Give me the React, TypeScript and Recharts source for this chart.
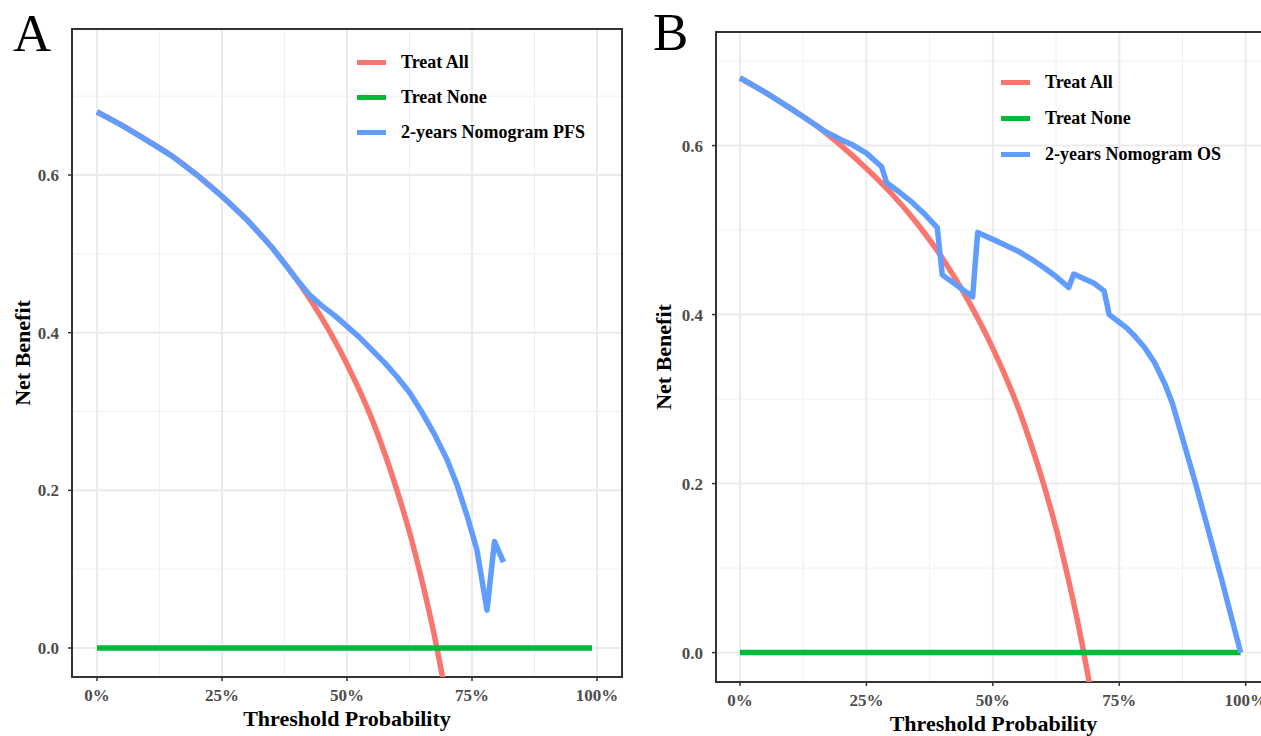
import React from 'react';
import { LineChart, Line, XAxis, YAxis, CartesianGrid, Legend, ReferenceArea } from 'recharts';

// axis breaks
const xTicks = [0, 0.25, 0.5, 0.75, 1];
const yTicks = [0, 0.2, 0.4, 0.6];
const xMinor = [0.125, 0.375, 0.625, 0.875];
const yMinor = [0.1, 0.3, 0.5, 0.7];

// Treat All (same curve in both panels)
const treatAllX = [0, 0.05, 0.1, 0.15, 0.2, 0.25, 0.3, 0.35, 0.4, 0.45, 0.5, 0.55, 0.6, 0.625, 0.65, 0.675, 0.7];
const treatAllY = [0.68, 0.663, 0.644, 0.624, 0.6, 0.573, 0.543, 0.508, 0.467, 0.418, 0.36, 0.29, 0.2, 0.147, 0.085, 0.015, -0.067];

// Treat None
const treatNoneX = [0, 0.99];
const treatNoneY = [0, 0];

// panel A: 2-years Nomogram PFS
const pfsX = [0, 0.05, 0.1, 0.15, 0.2, 0.25, 0.3, 0.35, 0.4, 0.425, 0.45, 0.475, 0.5, 0.525, 0.55, 0.575, 0.6, 0.625, 0.65, 0.675, 0.7, 0.72, 0.74, 0.76, 0.78, 0.795, 0.813];
const pfsY = [0.68, 0.663, 0.644, 0.624, 0.6, 0.573, 0.543, 0.508, 0.467, 0.448, 0.434, 0.422, 0.408, 0.394, 0.378, 0.362, 0.344, 0.324, 0.299, 0.271, 0.239, 0.207, 0.168, 0.124, 0.048, 0.135, 0.109];

// panel B: 2-years Nomogram OS
const osX = [0, 0.05, 0.1, 0.15, 0.17, 0.2, 0.225, 0.25, 0.28, 0.29, 0.315, 0.34, 0.365, 0.39, 0.4, 0.46, 0.47, 0.5, 0.525, 0.55, 0.575, 0.6, 0.625, 0.65, 0.66, 0.7, 0.72, 0.73, 0.75, 0.765, 0.78, 0.8, 0.82, 0.84, 0.855, 0.9, 0.95, 0.99];
const osY = [0.68, 0.663, 0.644, 0.624, 0.616, 0.607, 0.6, 0.591, 0.575, 0.556, 0.545, 0.533, 0.519, 0.503, 0.447, 0.421, 0.497, 0.489, 0.482, 0.475, 0.466, 0.456, 0.445, 0.432, 0.448, 0.437, 0.428, 0.4, 0.391, 0.384, 0.375, 0.361, 0.343, 0.318, 0.295, 0.202, 0.092, 0];

const FONT = '"Liberation Serif", "Times New Roman", serif';
const RED = '#F8766D';
const GREEN = '#00BA38';
const BLUE = '#619CFF';

const zip = (xs: number[], ys: number[]) => xs.map((x, i) => ({ x, y: ys[i] }));

type PanelProps = {
  left: number;
  margin: { top: number; right: number; left: number; bottom: number };
  yAxisWidth: number;
  xAxisHeight: number;
  xDomain: [number, number];
  yDomain: [number, number];
  modelName: string;
  modelX: number[];
  modelY: number[];
  xLabelOffset: number;
  yLabelDx: number;
  legendLeft: number;
  legendTop: number;
  legendRow: number;
};

const LegendBox = ({ names, rowH }: { names: string[]; rowH: number }) => {
  const colors = [RED, GREEN, BLUE];
  return (
    <div style={{ fontFamily: FONT, fontWeight: 'bold', fontSize: 18, color: '#000' }}>
      {names.map((n, i) => (
        <div key={n} style={{ display: 'flex', alignItems: 'center', height: rowH }}>
          <span style={{ display: 'inline-block', width: 29, height: 5, background: colors[i], marginRight: 15 }} />
          <span style={{ whiteSpace: 'nowrap' }}>{n}</span>
        </div>
      ))}
    </div>
  );
};

const Panel = (p: PanelProps) => {
  const tickStyle = { fill: '#4d4d4d', fontSize: 17, fontWeight: 'bold', fontFamily: FONT };
  const titleStyle = { fill: '#000', fontSize: 22, fontWeight: 'bold', fontFamily: FONT };
  return (
    <div style={{ position: 'absolute', left: p.left, top: 0 }}>
      <LineChart width={640} height={736} margin={p.margin}>
        <CartesianGrid horizontalValues={yMinor} verticalValues={xMinor} stroke="#f0f0f0" strokeWidth={1} />
        <CartesianGrid horizontalValues={yTicks} verticalValues={xTicks} stroke="#ebebeb" strokeWidth={2} />
        <XAxis
          type="number"
          dataKey="x"
          domain={p.xDomain}
          ticks={xTicks}
          interval={0}
          allowDataOverflow
          height={p.xAxisHeight}
          axisLine={false}
          tickLine={{ stroke: '#333', strokeWidth: 1.5 }}
          tickSize={4}
          tickMargin={8}
          tick={tickStyle}
          tickFormatter={(v: number) => `${Math.round(v * 100)}%`}
          label={{ value: 'Threshold Probability', position: 'insideBottom', offset: p.xLabelOffset, ...titleStyle }}
        />
        <YAxis
          type="number"
          domain={p.yDomain}
          ticks={yTicks}
          interval={0}
          allowDataOverflow
          width={p.yAxisWidth}
          axisLine={false}
          tickLine={{ stroke: '#333', strokeWidth: 1.5 }}
          tickSize={4}
          tickMargin={9}
          tick={tickStyle}
          tickFormatter={(v: number) => v.toFixed(1)}
          label={{ value: 'Net Benefit', angle: -90, position: 'center', dx: p.yLabelDx, ...titleStyle }}
        />
        <Line data={zip(treatAllX, treatAllY)} dataKey="y" name="Treat All" type="monotone" stroke={RED} strokeWidth={5.5} dot={false} activeDot={false} isAnimationActive={false} />
        <Line data={zip(treatNoneX, treatNoneY)} dataKey="y" name="Treat None" type="linear" stroke={GREEN} strokeWidth={5.5} dot={false} activeDot={false} isAnimationActive={false} />
        <Line data={zip(p.modelX, p.modelY)} dataKey="y" name={p.modelName} type="linear" stroke={BLUE} strokeWidth={5.5} strokeLinejoin="round" dot={false} activeDot={false} isAnimationActive={false} />
        <ReferenceArea x1={p.xDomain[0]} x2={p.xDomain[1]} y1={p.yDomain[0]} y2={p.yDomain[1]} fill="none" stroke="#333" strokeWidth={2} ifOverflow="visible" />
        <Legend
          layout="vertical"
          align="center"
          verticalAlign="middle"
          wrapperStyle={{ left: p.legendLeft, top: p.legendTop, width: 'auto' }}
          content={() => <LegendBox names={['Treat All', 'Treat None', p.modelName]} rowH={p.legendRow} />}
        />
      </LineChart>
    </div>
  );
};

export default function App() {
  return (
    <div style={{ position: 'fixed', left: 0, top: 0, width: 1261, height: 736, overflow: 'hidden', background: '#fff', fontFamily: FONT }}>
      <Panel
        left={0}
        margin={{ top: 29, right: 18, left: 0, bottom: 0 }}
        yAxisWidth={72}
        xAxisHeight={59}
        xDomain={[-0.05, 1.05]}
        yDomain={[-0.0368, 0.7852]}
        modelName="2-years Nomogram PFS"
        modelX={pfsX}
        modelY={pfsY}
        xLabelOffset={10}
        yLabelDx={-14}
        legendLeft={357}
        legendTop={44.5}
        legendRow={35}
      />
      <Panel
        left={640}
        margin={{ top: 32, right: 9, left: 0, bottom: 0 }}
        yAxisWidth={76}
        xAxisHeight={54}
        xDomain={[-0.0474, 1.05]}
        yDomain={[-0.0348, 0.7344]}
        modelName="2-years Nomogram OS"
        modelX={osX}
        modelY={osY}
        xLabelOffset={5}
        yLabelDx={-15}
        legendLeft={361}
        legendTop={64.3}
        legendRow={36}
      />
      <svg width={1261} height={736} style={{ position: 'absolute', left: 0, top: 0, pointerEvents: 'none' }}>
        <text x={13} y={51} fontSize={53} fontFamily={FONT} fill="#000">A</text>
        <text x={653} y={50} fontSize={53} fontFamily={FONT} fill="#000">B</text>
      </svg>
    </div>
  );
}
